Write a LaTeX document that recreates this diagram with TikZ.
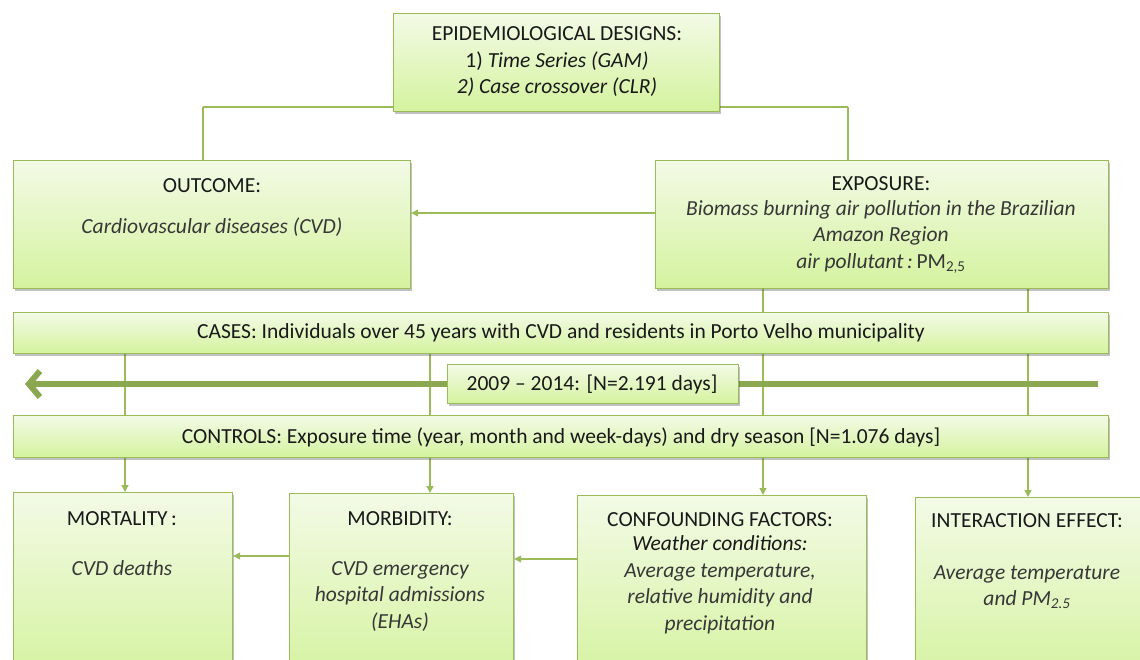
\documentclass[tikz,border=0pt]{standalone}
\usepackage{fontspec}
\setmainfont{Carlito}
\usetikzlibrary{arrows.meta,shadows}
\pgfdeclarelayer{background}
\pgfsetlayers{background,main}
\definecolor{boxtop}{RGB}{243,250,230}
\definecolor{boxbot}{RGB}{212,243,158}
\definecolor{edge}{RGB}{155,187,89}
\definecolor{ink}{RGB}{25,25,25}
\definecolor{iink}{RGB}{55,55,55}
\tikzset{
  box/.style={draw=edge, line width=1.2pt, top color=boxtop, bottom color=boxbot,
    drop shadow={shadow xshift=1.5pt, shadow yshift=-2.5pt, opacity=0.35, fill=black!70},
    inner sep=0pt, anchor=north west},
  txt/.style={font=\fontsize{21.5}{26.5}\selectfont, text=ink, align=center, inner sep=0pt},
  itx/.style={font=\fontsize{21.5}{26.5}\selectfont\itshape, text=iink, align=center, inner sep=0pt},
  conn/.style={draw=edge, line width=1.3pt},
  arr/.style={conn, -{Triangle[length=7pt,width=7pt]}},
  timeline/.style={draw=edge!90!black, line width=6pt, -{Straight Barb[length=11pt,width=26pt,line width=6pt]}}
}
\begin{document}
\begin{tikzpicture}[x=1pt,y=-1pt]
\useasboundingbox (0,0) rectangle (1140,659);
\clip (0,0) rectangle (1140,659);
% boxes
\node[box, minimum width=326pt, minimum height=98pt] (design) at (393,13) {};
\node[box, minimum width=397pt, minimum height=128pt] (outcome) at (13,160) {};
\node[box, minimum width=453pt, minimum height=128pt] (exposure) at (655,160) {};
\node[box, minimum width=1095pt, minimum height=41pt] (cases) at (13,312) {};
\node[box, minimum width=291pt, minimum height=39pt] (period) at (447,364) {};
\node[box, minimum width=1095pt, minimum height=42pt] (controls) at (13,415) {};
\node[box, minimum width=219pt, minimum height=190pt] (mortality) at (13,492) {};
\node[box, minimum width=224pt, minimum height=190pt] (morbidity) at (289,493) {};
\node[box, minimum width=289pt, minimum height=190pt] (confound) at (577,495) {};
\node[box, minimum width=240pt, minimum height=190pt] (interact) at (915,497) {};
% texts
\node[txt] (tdesign) at (557,62) {EPIDEMIOLOGICAL DESIGNS:\\ 1) \textit{Time Series (GAM)}\\ \textit{2) Case crossover (CLR)}};
\node[txt] (toutA) at (212,186) {OUTCOME:};
\node[itx] (toutB) at (212,227) {Cardiovascular diseases (CVD)};
\node[txt] (texpA) at (881,184) {EXPOSURE:};
\node[itx] (texpB) at (881,237) {Biomass burning air pollution in the Brazilian\\ Amazon Region\\ air pollutant\,:\,\upshape PM\textsubscript{2,5}};
\node[txt] (tcases) at (561,333) {CASES: Individuals over 45 years with CVD and residents in Porto Velho municipality};
\node[txt] (tperiod) at (592,384) {2009 -- 2014: [N=2.191 days]};
\node[txt] (tcontrols) at (561,437) {CONTROLS: Exposure time (year, month and week-days) and dry season [N=1.076 days]};
\node[txt] (tmortA) at (122,519) {MORTALITY\,:};
\node[itx] (tmortB) at (122,568) {CVD deaths};
\node[txt] (tmorbA) at (400,519) {MORBIDITY:};
\node[itx] (tmorbB) at (400,596) {CVD emergency\\ hospital admissions\\ (EHAs)};
\node[txt] (tconfA) at (720,520) {CONFOUNDING FACTORS:};
\node[itx] (tconfB) at (720,585) {\textcolor{ink}{Weather conditions:}\\ Average temperature,\\ relative humidity and\\ precipitation};
\node[txt] (tintA) at (1027,521) {INTERACTION EFFECT:};
\node[itx] (tintB) at (1027,587) {Average temperature\\ and PM\textsubscript{2.5}};
% connectors
\coordinate (jL) at (203,107);
\coordinate (jR) at (848,107);
\coordinate (tlR) at (1098,384);
\coordinate (tlL) at (25,384);
\coordinate (c1) at (125,0);
\coordinate (c2) at (430,0);
\coordinate (c3) at (763,0);
\coordinate (c4) at (1028,0);
\begin{pgfonlayer}{background}
\draw[conn] (jL) -- (jR);
\draw[conn] (jL) -- (outcome.north -| jL);
\draw[conn] (jR) -- (exposure.north -| jR);
\draw[arr] (exposure.west |- 0,213) -- (outcome.east |- 0,213);
\draw[conn] (exposure.south -| c3) -- (cases.north -| c3);
\draw[conn] (exposure.south -| c4) -- (cases.north -| c4);
\draw[conn] (cases.south -| c1) -- (controls.north -| c1);
\draw[conn] (cases.south -| c2) -- (controls.north -| c2);
\draw[conn] (cases.south -| c3) -- (controls.north -| c3);
\draw[conn] (cases.south -| c4) -- (controls.north -| c4);
\draw[timeline] (tlR) -- (tlL);
\draw[arr] (controls.south -| c1) -- (mortality.north -| c1);
\draw[arr] (controls.south -| c2) -- (morbidity.north -| c2);
\draw[arr] (controls.south -| c3) -- (confound.north -| c3);
\draw[arr] (controls.south -| c4) -- (interact.north -| c4);
\draw[arr] (morbidity.west |- 0,556) -- (mortality.east |- 0,556);
\draw[arr] (confound.west |- 0,559) -- (morbidity.east |- 0,559);
\end{pgfonlayer}
\end{tikzpicture}
\end{document}
